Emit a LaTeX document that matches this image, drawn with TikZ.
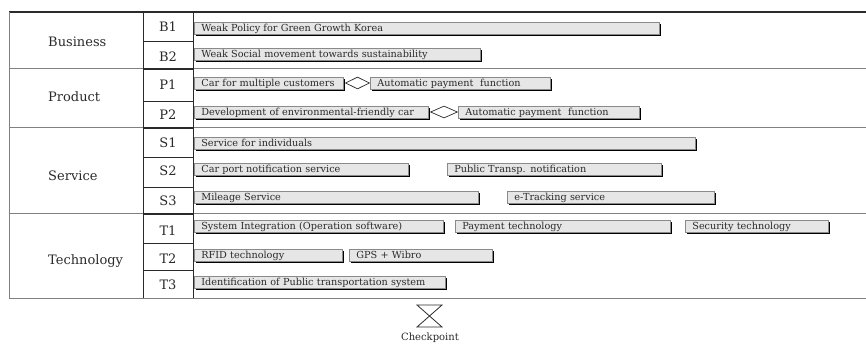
\documentclass[tikz,border=0pt]{standalone}
\usepackage{fontspec}
\setmainfont{DejaVu Serif}
\usetikzlibrary{shapes.geometric,shadows}

\definecolor{barfill}{HTML}{E6E6E6}
\definecolor{barline}{HTML}{8A8A8A}
\definecolor{gridline}{HTML}{808080}
\definecolor{inkgray}{HTML}{2A2A2A}

\newcommand{\bartext}{\fontsize{9.7}{11}\selectfont}
\newcommand{\grouptext}{\fontsize{13}{15}\selectfont}

\tikzset{
  barbox/.style={draw=barline, fill=barfill, line width=0.7pt, anchor=west,
    minimum height=12pt, inner ysep=0pt, inner xsep=7pt, align=left,
    font=\bartext, text=inkgray, text height=8pt, text depth=1.4pt,
    text width=#1,
    drop shadow={shadow xshift=2pt, shadow yshift=-2pt, fill=black, opacity=1}},
  joint/.style={shape=diamond, draw=inkgray, fill=white, line width=0.7pt,
    inner sep=0pt, minimum width=#1, minimum height=12pt},
  grouplabel/.style={anchor=west, font=\grouptext, text=inkgray, inner sep=0pt},
  rowlabel/.style={font=\grouptext, text=inkgray, inner sep=0pt},
  grid/.style={draw=gridline, line width=1pt},
  cellgrid/.style={draw=inkgray, line width=0.9pt},
}

\begin{document}
\begin{tikzpicture}[x=1pt, y=-1pt]
\useasboundingbox (0,0) rectangle (866,347);

% table frame
\draw[grid] (9,69) -- (866,69);
\draw[grid] (9,128) -- (866,128);
\draw[grid] (9,214) -- (866,214);
\draw[grid] (9,298) -- (866,298);
\draw[draw=inkgray, line width=1.4pt] (9,12) -- (866,12);
\draw[grid] (9,12) -- (9,298);
\draw[cellgrid] (143,12) -- (143,298);
\draw[cellgrid] (193,12) -- (193,298);
% sub-row dividers in the code column
\foreach \yy in {41,101,157,187,243,270}
  \draw[cellgrid] (143,\yy) -- (193,\yy);
\foreach \yy in {69,128,214}
  \draw[draw=inkgray, line width=1.4pt] (143,\yy) -- (193,\yy);

% group labels
\node[grouplabel] (business) at (48,42) {Business};
\node[grouplabel] (product) at (48,97) {Product};
\node[grouplabel] (service) at (48,176) {Service};
\node[grouplabel] (technology) at (48,261) {Technology};

% row codes
\node[rowlabel] (b1) at (168,27) {B1};
\node[rowlabel] (b2) at (168,57) {B2};
\node[rowlabel] (p1) at (168,85) {P1};
\node[rowlabel] (p2) at (168,115) {P2};
\node[rowlabel] (s1) at (168,143) {S1};
\node[rowlabel] (s2) at (168,171) {S2};
\node[rowlabel] (s3) at (168,201) {S3};
\node[rowlabel] (t1) at (168,231) {T1};
\node[rowlabel] (t2) at (168,259) {T2};
\node[rowlabel] (t3) at (168,285) {T3};

% Business
\node[barbox=451pt] (b1a) at (194,28.5) {Weak Policy for Green Growth Korea};
\node[barbox=272pt] (b2a) at (194,54.5) {Weak Social movement towards sustainability};

% Product
\node[barbox=135pt] (p1a) at (194,83) {Car for multiple customers};
\node[joint=24pt] (p1j) at (357.5,83) {};
\node[barbox=166pt] (p1b) at (370,83) {Automatic payment\ \ function};
\node[barbox=220pt] (p2a) at (194,112) {Development of environmental-friendly car};
\node[joint=27pt] (p2j) at (444,112) {};
\node[barbox=167pt] (p2b) at (458,112) {Automatic payment\ \ function};

% Service
\node[barbox=487pt] (s1a) at (194,143) {Service for individuals};
\node[barbox=200pt] (s2a) at (194,169) {Car port notification service};
\node[barbox=200pt] (s2b) at (447,169) {Public Transp. notification};
\node[barbox=270pt] (s3a) at (194,197.5) {Mileage Service};
\node[barbox=193pt] (s3b) at (507,197.5) {e-Tracking service};

% Technology
\node[barbox=235pt] (t1a) at (194,226) {System Integration (Operation software)};
\node[barbox=201pt] (t1b) at (455,226) {Payment technology};
\node[barbox=129pt] (t1c) at (685,226) {Security technology};
\node[barbox=134pt] (t2a) at (194,255) {RFID technology};
\node[barbox=129pt] (t2b) at (349,255) {GPS + Wibro};
\node[barbox=237pt] (t3a) at (194,282) {Identification of Public transportation system};

% checkpoint marker
\node[font=\fontsize{10}{11}\selectfont, text=inkgray, inner sep=0pt] (checkpoint) at (430,338) {Checkpoint};
\draw[draw=inkgray, line width=0.8pt, line join=miter]
  (417,305) -- (442,305) -- (417,327) -- (442,327) -- cycle;
\end{tikzpicture}
\end{document}
